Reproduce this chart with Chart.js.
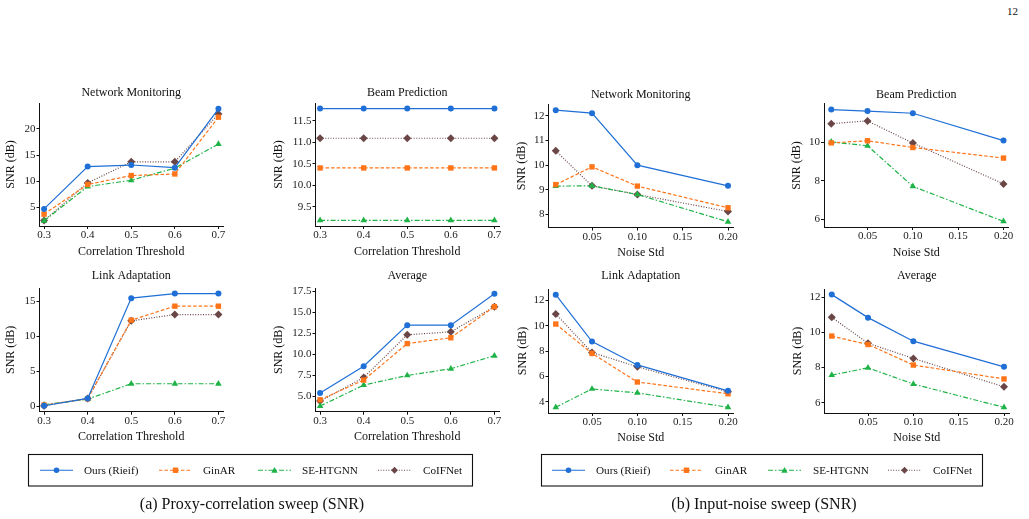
<!DOCTYPE html>
<html>
<head>
<meta charset="utf-8">
<script src="https://cdn.jsdelivr.net/npm/chart.js"></script>
<style>
  body { margin: 0; background: #fff; }
  #page { position: relative; width: 1029px; height: 519px; overflow: hidden; font-family: "Liberation Serif", serif; color: #111; }
  canvas { position: absolute; }
  .cap { position: absolute; font-size: 16px; white-space: nowrap; transform: translate(-50%, -50%); }
  #pgnum { position: absolute; left: 1007px; top: 5px; font-size: 11px; color: #111; }
  svg { position: absolute; left: 0; top: 0; }
</style>
</head>
<body>
<div id="page">
  <div id="pgnum">12</div>
  <canvas id="c1"></canvas><canvas id="c2"></canvas><canvas id="c3"></canvas><canvas id="c4"></canvas>
  <canvas id="c5"></canvas><canvas id="c6"></canvas><canvas id="c7"></canvas><canvas id="c8"></canvas>
  <svg id="legends" width="1029" height="519"></svg>
  <div class="cap" style="left:252px; top:504px;">(a) Proxy-correlation sweep (SNR)</div>
  <div class="cap" style="left:764px; top:504px;">(b) Input-noise sweep (SNR)</div>
</div>
<script>
// x values
const corrX = [0.3, 0.4, 0.5, 0.6, 0.7];
const noiseX = [0.01, 0.05, 0.10, 0.20];
const methods = ['Ours (Rieif)', 'GinAR', 'SE-HTGNN', 'CoIFNet'];

// (a) proxy-correlation sweep
const corrNetOurs = [4.75, 12.8, 13.1, 12.6, 23.8];
const corrNetGinAR = [3.75, 9.4, 11.1, 11.4, 22.2];
const corrNetSE = [2.5, 9.0, 10.2, 12.5, 17.1];
const corrNetCoIF = [2.55, 9.7, 13.7, 13.7, 22.8];

const corrBeamOurs = [11.78, 11.78, 11.78, 11.78, 11.78];
const corrBeamGinAR = [10.40, 10.40, 10.40, 10.40, 10.40];
const corrBeamSE = [9.18, 9.18, 9.18, 9.18, 9.18];
const corrBeamCoIF = [11.09, 11.09, 11.09, 11.09, 11.09];

const corrLinkOurs = [0.05, 1.1, 15.45, 16.1, 16.1];
const corrLinkGinAR = [0.15, 1.05, 12.3, 14.3, 14.3];
const corrLinkSE = [0.2, 1.0, 3.2, 3.2, 3.2];
const corrLinkCoIF = [0.05, 1.1, 12.2, 13.1, 13.1];

const corrAvgOurs = [5.4, 8.6, 13.5, 13.5, 17.25];
const corrAvgGinAR = [4.6, 6.95, 11.3, 12.0, 15.7];
const corrAvgSE = [3.85, 6.35, 7.5, 8.3, 9.85];
const corrAvgCoIF = [4.45, 7.25, 12.35, 12.7, 15.7];

// (b) input-noise sweep
const noiseNetOurs = [12.23, 12.11, 10.0, 9.16];
const noiseNetGinAR = [9.21, 9.93, 9.15, 8.27];
const noiseNetSE = [9.15, 9.16, 8.81, 7.7];
const noiseNetCoIF = [10.58, 9.16, 8.81, 8.12];

const noiseBeamOurs = [11.71, 11.63, 11.52, 10.1];
const noiseBeamGinAR = [9.98, 10.09, 9.74, 9.19];
const noiseBeamSE = [10.03, 9.83, 7.72, 5.9];
const noiseBeamCoIF = [10.98, 11.12, 9.97, 7.85];

const noiseLinkOurs = [12.45, 8.75, 6.9, 4.85];
const noiseLinkGinAR = [10.13, 7.81, 5.55, 4.62];
const noiseLinkSE = [3.55, 5.0, 4.69, 3.55];
const noiseLinkCoIF = [10.93, 7.88, 6.75, 4.77];

const noiseAvgOurs = [12.15, 10.84, 9.5, 8.04];
const noiseAvgGinAR = [9.79, 9.31, 8.14, 7.35];
const noiseAvgSE = [7.57, 7.98, 7.06, 5.73];
const noiseAvgCoIF = [10.86, 9.38, 8.52, 6.9];

// tick labels
const corrTicks = [0.3, 0.4, 0.5, 0.6, 0.7];
const noiseTicks = [0.05, 0.10, 0.15, 0.20];
const yTicksNetCorr = [5, 10, 15, 20];
const yTicksBeamCorr = [9.5, 10.0, 10.5, 11.0, 11.5];
const yTicksLinkCorr = [0, 5, 10, 15];
const yTicksAvgCorr = [5.0, 7.5, 10.0, 12.5, 15.0, 17.5];
const yTicksNetNoise = [8, 9, 10, 11, 12];
const yTicksBeamNoise = [6, 8, 10];
const yTicksLinkNoise = [4, 6, 8, 10, 12];
const yTicksAvgNoise = [6, 8, 10, 12];

const FONT = 'Liberation Serif';
const styles = [
  { color: '#1f6fd6', dash: [], point: 'circle', r: 3 },
  { color: '#ff7418', dash: [3.5, 2], point: 'rect', r: 3.8 },
  { color: '#1fb347', dash: [5, 2, 1.5, 2], point: 'triangle', r: 3.8 },
  { color: '#6b4646', dash: [1, 1.6], point: 'rectRot', r: 4 }
];

function makePanel(id, box, title, xTitle, xs, xRange, xTicks, xDec, series, yRange, yTicks, yDec) {
  const left = Math.round(box.yLabX - 7.2);
  const top = Math.round(box.titleY - 7.2);
  const width = Math.round(box.R + 14 - left);
  const height = Math.round(box.xLabY + 7.2 - top);
  const cv = document.getElementById(id);
  cv.width = width; cv.height = height;
  cv.style.left = left + 'px'; cv.style.top = top + 'px';
  cv.style.width = width + 'px'; cv.style.height = height + 'px';

  const yW = box.L - left;
  const xH = top + height - box.B;
  const titlePad = box.T - top - 14.4;

  const datasets = series.map((ys, i) => ({
    label: methods[i],
    data: xs.map((x, j) => ({ x: x, y: ys[j] })),
    borderColor: styles[i].color,
    backgroundColor: styles[i].color,
    borderWidth: 1.2,
    borderDash: styles[i].dash,
    pointStyle: styles[i].point,
    pointRadius: styles[i].r,
    pointBorderWidth: 0,
    tension: 0,
    clip: false
  }));

  const tickFont = { family: FONT, size: 11 };
  const labFont = { family: FONT, size: 12, weight: 'normal' };
  return new Chart(cv, {
    type: 'line',
    data: { datasets: datasets },
    options: {
      responsive: false,
      animation: false,
      events: [],
      layout: { padding: { left: 0, top: 0, bottom: 0, right: left + width - box.R } },
      plugins: {
        legend: { display: false },
        tooltip: { enabled: false },
        title: { display: true, fullSize: false, text: title, color: '#111', font: labFont, padding: { top: 0, bottom: titlePad } }
      },
      scales: {
        x: {
          type: 'linear', min: xRange[0], max: xRange[1],
          afterBuildTicks: s => { s.ticks = xTicks.map(v => ({ value: v })); },
          afterFit: s => { s.height = xH; },
          ticks: { font: tickFont, color: '#222', padding: 0, autoSkip: false, maxRotation: 0,
                   callback: v => Number(v).toFixed(xDec) },
          grid: { drawOnChartArea: false, tickLength: 3, tickColor: '#111' },
          border: { color: '#111', width: 1 },
          title: { display: true, text: xTitle, color: '#111', font: labFont, padding: 0 }
        },
        y: {
          type: 'linear', min: yRange[0], max: yRange[1],
          afterBuildTicks: s => { s.ticks = yTicks.map(v => ({ value: v })); },
          afterFit: s => { s.width = yW; },
          ticks: { font: tickFont, color: '#222', padding: 1, autoSkip: false,
                   callback: v => Number(v).toFixed(yDec) },
          grid: { drawOnChartArea: false, tickLength: 3, tickColor: '#111' },
          border: { color: '#111', width: 1 },
          title: { display: true, text: 'SNR (dB)', color: '#111', font: labFont, padding: 0 }
        }
      }
    }
  });
}

const corrRange = [0.2895, 0.7105];
const noiseRange = [0.002, 0.2055];

makePanel('c1', { L: 39.5, R: 223, T: 103, B: 226, titleY: 93.5, yLabX: 11, xLabY: 251.7 },
  'Network Monitoring', 'Correlation Threshold', corrX, corrRange, corrTicks, 1,
  [corrNetOurs, corrNetGinAR, corrNetSE, corrNetCoIF], [1.5, 24.9], yTicksNetCorr, 0);
makePanel('c2', { L: 315.5, R: 499, T: 103, B: 226, titleY: 93.5, yLabX: 279, xLabY: 251.7 },
  'Beam Prediction', 'Correlation Threshold', corrX, corrRange, corrTicks, 1,
  [corrBeamOurs, corrBeamGinAR, corrBeamSE, corrBeamCoIF], [9.05, 11.91], yTicksBeamCorr, 1);
makePanel('c3', { L: 548.5, R: 733, T: 104.5, B: 227.5, titleY: 95, yLabX: 522, xLabY: 252.5 },
  'Network Monitoring', 'Noise Std', noiseX, noiseRange, noiseTicks, 2,
  [noiseNetOurs, noiseNetGinAR, noiseNetSE, noiseNetCoIF], [7.47, 12.46], yTicksNetNoise, 0);
makePanel('c4', { L: 824, R: 1008.5, T: 104, B: 227, titleY: 95, yLabX: 797, xLabY: 252.5 },
  'Beam Prediction', 'Noise Std', noiseX, noiseRange, noiseTicks, 2,
  [noiseBeamOurs, noiseBeamGinAR, noiseBeamSE, noiseBeamCoIF], [5.61, 12.0], yTicksBeamNoise, 0);
makePanel('c5', { L: 39.5, R: 223, T: 288, B: 411.7, titleY: 275.7, yLabX: 11, xLabY: 436.7 },
  'Link Adaptation', 'Correlation Threshold', corrX, corrRange, corrTicks, 1,
  [corrLinkOurs, corrLinkGinAR, corrLinkSE, corrLinkCoIF], [-0.8, 16.9], yTicksLinkCorr, 0);
makePanel('c6', { L: 315.5, R: 499, T: 288, B: 411.7, titleY: 275.7, yLabX: 279, xLabY: 436.7 },
  'Average', 'Correlation Threshold', corrX, corrRange, corrTicks, 1,
  [corrAvgOurs, corrAvgGinAR, corrAvgSE, corrAvgCoIF], [3.18, 17.93], yTicksAvgCorr, 1);
makePanel('c7', { L: 548.5, R: 733, T: 289, B: 413, titleY: 276.5, yLabX: 523, xLabY: 437.5 },
  'Link Adaptation', 'Noise Std', noiseX, noiseRange, noiseTicks, 2,
  [noiseLinkOurs, noiseLinkGinAR, noiseLinkSE, noiseLinkCoIF], [3.1, 12.9], yTicksLinkNoise, 0);
makePanel('c8', { L: 824.5, R: 1009, T: 289, B: 413, titleY: 276.5, yLabX: 798, xLabY: 437.5 },
  'Average', 'Noise Std', noiseX, noiseRange, noiseTicks, 2,
  [noiseAvgOurs, noiseAvgGinAR, noiseAvgSE, noiseAvgCoIF], [5.41, 12.47], yTicksAvgNoise, 0);

// legends (drawn in svg)
const NS = 'http://www.w3.org/2000/svg';
const svg = document.getElementById('legends');
function el(tag, attrs, text) {
  const e = document.createElementNS(NS, tag);
  for (const k in attrs) e.setAttribute(k, attrs[k]);
  if (text) e.textContent = text;
  svg.appendChild(e);
  return e;
}
function marker(i, x, y) {
  const c = styles[i].color;
  if (i === 0) el('circle', { cx: x, cy: y, r: 2.8, fill: c });
  else if (i === 1) el('rect', { x: x - 2.7, y: y - 2.7, width: 5.4, height: 5.4, fill: c });
  else if (i === 2) el('polygon', { points: `${x},${y - 3.3} ${x + 3.2},${y + 2.4} ${x - 3.2},${y + 2.4}`, fill: c });
  else el('polygon', { points: `${x},${y - 3.4} ${x + 3.4},${y} ${x},${y + 3.4} ${x - 3.4},${y}`, fill: c });
}
function legend(bx, lineX, textX) {
  el('rect', { x: bx[0], y: bx[1], width: bx[2], height: bx[3], fill: 'none', stroke: '#111', 'stroke-width': 1.1 });
  const cy = bx[1] + bx[3] / 2;
  methods.forEach((m, i) => {
    el('line', { x1: lineX[i], y1: cy, x2: lineX[i] + 33, y2: cy, stroke: styles[i].color, 'stroke-width': 1.2,
                 'stroke-dasharray': styles[i].dash.length ? styles[i].dash.join(' ') : 'none' });
    marker(i, lineX[i] + 16.5, cy);
    el('text', { x: textX[i], y: cy + 4, 'font-family': FONT, 'font-size': 11.2, fill: '#111' }, m);
  });
}
legend([28.5, 454.5, 444, 31.5], [40, 159, 258, 378], [84, 203, 302, 423]);
legend([541.5, 454.5, 441, 31.5], [552, 670, 768, 888], [596, 715, 813, 933]);
</script>
</body>
</html>
